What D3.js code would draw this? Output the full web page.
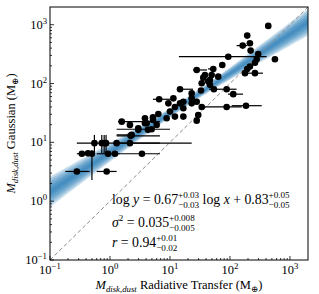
<!DOCTYPE html>
<html>
<head>
<meta charset="utf-8">
<script src="https://cdn.jsdelivr.net/npm/d3@7"></script>
<style>
  body { margin: 0; background: #fff; }
  text { font-family: "Liberation Serif", "DejaVu Serif", serif; fill: #000; white-space: pre; }
</style>
</head>
<body>
<div id="chart"></div>
<script>
// Dust disk masses: radiative transfer (x) vs Gaussian fit (y), in Earth masses
const xVals = [0.28, 0.88, 0.34, 0.50, 0.93, 1.21, 3.41, 0.43,
  0.55, 0.73, 0.80, 0.86, 1.29, 2.15,
  1.57, 2.15, 2.3, 2.96, 3.83, 4.3, 6.0, 2.21, 3.83, 5.21, 6.4, 4.95, 2.96, 4.09,
  6.6, 8.8, 12.1, 16.7, 5.21, 11.4, 23, 27.9, 14.7, 16.7, 12.1, 33.8, 10, 29.6, 27.9, 9.4,
  88.1, 185, 113.5, 14.7, 32.9, 54, 88.1,
  74.5, 52.7, 27.9, 35.9, 49.5, 63.8, 46.4, 33.8, 46.4, 38.3, 43.5,
  435, 194, 215, 163, 221, 93.7, 296, 562, 279, 261, 215, 194, 178, 261,
  23, 16.7, 23];
const yVals = [3.2, 3.2, 6.4, 6.4, 6.4, 6.4, 6.4, 6.5,
  9.7, 9.7, 9.7, 9.7, 9.7, 9.7,
  22.5, 19.8, 13.4, 16.3, 21.1, 16.3, 19.8, 12.9, 25.7, 26.7, 30.4, 16.7, 17.4, 21.1,
  54, 25.7, 27.4, 27.4, 24, 56, 56, 49, 46, 38, 40, 40, 33.3, 29.2, 23.4, 46,
  40, 42, 66, 80, 76, 80, 80,
  207, 177, 170, 126, 140, 131, 115, 101, 95, 140, 108,
  955, 653, 484, 441, 363, 286, 318, 259, 259, 226, 194, 177, 150, 150,
  68, 49, 46];
// horizontal error bar ends (null = hidden under marker)
const xLo = [0.18, 0.60, 0.28, null, 0.60, null, 1.5, null,
  null, null, null, null, 0.28, 1.2,
  1.36, null, 1.29, null, null, null, null, 1.29, null, null, null, 1.29, null, null,
  5.2, null, null, null, null, null, null, null, null, null, null, null, null, null, null, null,
  35.5, 107, 92.6, 13.6, null, 45, null,
  null, 43, 24.2, null, null, null, null, null, null, null, null,
  null, null, null, 129, null, 14.1, null, null, null, null, null, null, null, 200,
  null, null, null];
const xHi = [0.46, 1.29, 0.55, null, 1.5, null, 6.8, null,
  null, null, null, null, 6.8, 23,
  6.8, null, 2.6, null, null, null, null, 6.8, null, null, null, 10, null, null,
  12.1, null, null, null, null, null, null, null, null, null, null, null, null, null, null, null,
  157, 338, 165, 24.2, null, 129, null,
  null, 56, 41.4, null, null, null, null, null, null, null, null,
  null, null, null, 194, null, 409, null, null, null, null, null, null, null, 355,
  null, null, null];
// vertical error bar ends
const yLo = [null, null, null, 2.3, null, null, null, null,
  6.6, 6.6, 6.6, 6.6, null, null];
const yHi = [null, null, null, 7.4, null, null, null, null,
  13.4, 13.4, 13.4, 13.4, null, null];

const tickExps = [-1, 0, 1, 2, 3];
const axisDomain = [0.1, 2000];

// fit: log y = slope log x + intercept
const fitSlope = 0.67, fitIntercept = 0.83, fitSlopeErr = 0.03, fitPivotErr = 0.02, fitPivot = 1.3;

const width = 319, height = 294;
const margin = {top: 7, left: 50, right: 11, bottom: 34};

const svg = d3.select("#chart").append("svg")
  .attr("width", width).attr("height", height);

const x = d3.scaleLog().domain(axisDomain).range([margin.left, width - margin.right]);
const y = d3.scaleLog().domain(axisDomain).range([height - margin.bottom, margin.top]);

svg.append("clipPath").attr("id", "clip").append("rect")
  .attr("x", x.range()[0]).attr("y", y.range()[1])
  .attr("width", x.range()[1] - x.range()[0]).attr("height", y.range()[0] - y.range()[1]);

const plot = svg.append("g").attr("clip-path", "url(#clip)");

// posterior band, drawn as stacked translucent layers
const lxs = d3.range(-1.2, 3.5, 0.05);
const sig = lx => Math.sqrt(fitPivotErr ** 2 + (fitSlopeErr * (lx - fitPivot)) ** 2);
[3.6, 3.0, 2.4, 1.8, 1.2, 0.6].forEach(k => {
  const area = d3.area()
    .x(lx => x(10 ** lx))
    .y0(lx => y(10 ** (fitSlope * lx + fitIntercept - k * sig(lx))))
    .y1(lx => y(10 ** (fitSlope * lx + fitIntercept + k * sig(lx))))
    .curve(d3.curveLinear);
  plot.append("path").datum(lxs)
    .attr("d", area)
    .attr("fill", "#1f77b4")
    .attr("fill-opacity", 0.24);
});

// one-to-one line
plot.append("line")
  .attr("x1", x(axisDomain[0])).attr("y1", y(axisDomain[0]))
  .attr("x2", x(axisDomain[1])).attr("y2", y(axisDomain[1]))
  .attr("stroke", "#8c8c8c").attr("stroke-width", 1)
  .attr("stroke-dasharray", "4,2.5");

// error bars
xVals.forEach((xv, i) => {
  if (xLo[i] != null) {
    plot.append("line")
      .attr("x1", x(xLo[i])).attr("x2", x(xHi[i]))
      .attr("y1", y(yVals[i])).attr("y2", y(yVals[i]))
      .attr("stroke", "#000").attr("stroke-width", 1.2);
  }
  if (yLo[i] != null) {
    plot.append("line")
      .attr("x1", x(xv)).attr("x2", x(xv))
      .attr("y1", y(yLo[i])).attr("y2", y(yHi[i]))
      .attr("stroke", "#000").attr("stroke-width", 1.2);
  }
});

plot.selectAll(".pt")
  .data(xVals)
  .enter()
  .append("circle")
  .attr("class", "pt")
  .attr("cx", d => x(d))
  .attr("cy", (d, i) => y(yVals[i]))
  .attr("r", 3.3)
  .attr("fill", "#000");

// frame
svg.append("rect")
  .attr("x", x.range()[0]).attr("y", y.range()[1])
  .attr("width", x.range()[1] - x.range()[0]).attr("height", y.range()[0] - y.range()[1])
  .attr("fill", "none").attr("stroke", "#000").attr("stroke-width", 1);

// ticks (pointing inward)
const minorVals = [];
d3.range(-1, 4).forEach(e => d3.range(2, 10).forEach(m => {
  const v = m * 10 ** e;
  if (v < axisDomain[1]) minorVals.push(v);
}));
const majorVals = tickExps.map(e => 10 ** e);

const xAxisG = svg.append("g").attr("transform", `translate(0,${y.range()[0]})`);
const yAxisG = svg.append("g").attr("transform", `translate(${x.range()[0]},0)`);
[[majorVals, 4], [minorVals, 2]].forEach(([vals, len]) => {
  xAxisG.selectAll(null).data(vals).enter().append("line")
    .attr("x1", d => x(d)).attr("x2", d => x(d)).attr("y1", 0).attr("y2", -len)
    .attr("stroke", "#000").attr("stroke-width", 0.8);
  yAxisG.selectAll(null).data(vals).enter().append("line")
    .attr("y1", d => y(d)).attr("y2", d => y(d)).attr("x1", 0).attr("x2", len)
    .attr("stroke", "#000").attr("stroke-width", 0.8);
});

const tickFs = 12.5;
tickExps.forEach(e => {
  const t = xAxisG.append("text")
    .attr("x", x(10 ** e)).attr("y", 14)
    .attr("text-anchor", "middle")
    .attr("font-size", tickFs);
  t.append("tspan").text("10");
  t.append("tspan").attr("dy", -5).attr("font-size", tickFs * 0.7).text(e < 0 ? "\u2212" + (-e) : e);

  const u = yAxisG.append("text")
    .attr("x", -3).attr("y", y(10 ** e) + 4)
    .attr("text-anchor", "end")
    .attr("font-size", tickFs);
  u.append("tspan").text("10");
  u.append("tspan").attr("dy", -5).attr("font-size", tickFs * 0.7).text(e < 0 ? "\u2212" + (-e) : e);
});

// axis labels
const labFs = 12.5;
const addLabel = (sel, word) => {
  sel.append("tspan").attr("font-style", "italic").text("M");
  sel.append("tspan").attr("font-style", "italic").attr("font-size", labFs * 0.7).attr("dy", 3).text("disk,dust");
  sel.append("tspan").attr("dy", -3).text(" " + word + " (M");
  sel.append("tspan").attr("font-size", labFs * 0.7).attr("dy", 3).text("\u2295");
  sel.append("tspan").attr("dy", -3).text(")");
};
const xl = svg.append("text")
  .attr("x", (x.range()[0] + x.range()[1]) / 2).attr("y", 289)
  .attr("text-anchor", "middle").attr("font-size", labFs);
addLabel(xl, "Radiative Transfer");
const yl = svg.append("text")
  .attr("transform", `translate(15,${(y.range()[0] + y.range()[1]) / 2}) rotate(-90)`)
  .attr("text-anchor", "middle").attr("font-size", labFs);
addLabel(yl, "Gaussian");

// annotation with fit results
const mathLine = (x0, y0, pieces, fs) => {
  let cx = x0;
  pieces.forEach(p => {
    if (p.sup !== undefined) {
      const s = svg.append("text").attr("x", cx).attr("y", y0 - fs * 0.4)
        .attr("font-size", fs * 0.66).text(p.sup);
      const b = svg.append("text").attr("x", cx).attr("y", y0 + fs * 0.3)
        .attr("font-size", fs * 0.66).text(p.sub);
      cx += Math.max(s.node().getComputedTextLength(), b.node().getComputedTextLength());
    } else {
      const t = svg.append("text").attr("x", cx).attr("y", y0)
        .attr("font-size", fs).attr("font-style", p.it ? "italic" : "normal").text(p.t);
      cx += t.node().getComputedTextLength();
    }
  });
};
const annFs = 13.8;
mathLine(112, 204, [{t: "log "}, {t: "y", it: true}, {t: " = 0.67"}, {sup: "+0.03", sub: "\u22120.03"},
  {t: " log "}, {t: "x", it: true}, {t: " + 0.83"}, {sup: "+0.05", sub: "\u22120.05"}], annFs);
mathLine(112, 227, [{t: "\u03c3", it: true}, {sup: "2", sub: ""}, {t: " = 0.035"}, {sup: "+0.008", sub: "\u22120.005"}], annFs);
mathLine(112, 247, [{t: "r", it: true}, {t: " = 0.94"}, {sup: "+0.01", sub: "\u22120.02"}], annFs);
</script>
</body>
</html>
